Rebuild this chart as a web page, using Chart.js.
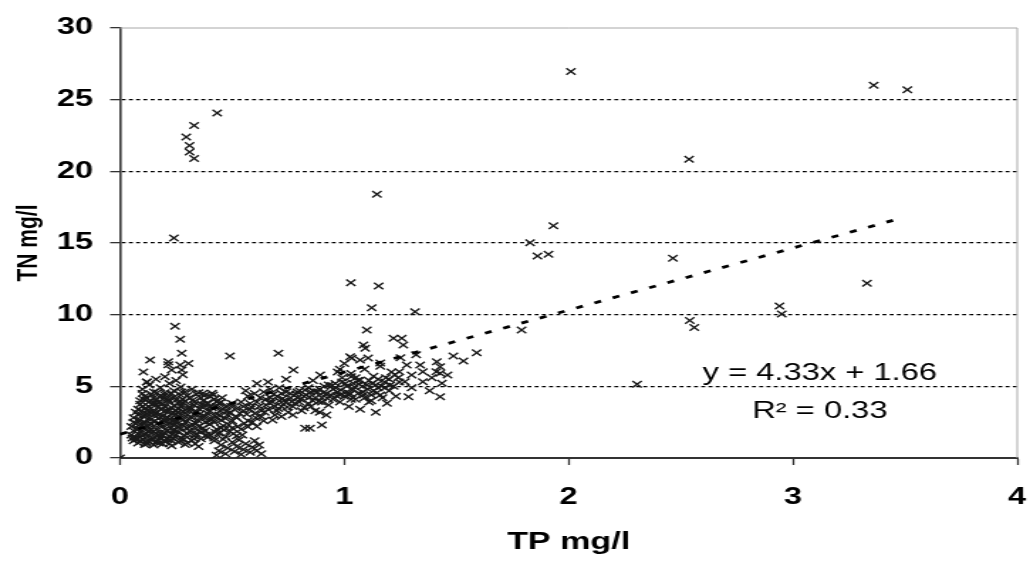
<!DOCTYPE html>
<html>
<head>
<meta charset="utf-8">
<script src="https://cdn.jsdelivr.net/npm/chart.js@4.4.1/dist/chart.umd.min.js"></script>
<style>
  html, body { margin: 0; padding: 0; background: #fff; overflow: hidden; }
  /* the source picture is a horizontally stretched Excel chart, so draw narrow and stretch */
  #wrap { width: 725px; height: 561px; transform: scaleX(1.4207); transform-origin: 0 0; }
</style>
</head>
<body>
<div id="wrap"><canvas id="chart"></canvas></div>
<script>
// TP (x) / TN (y) pairs
const denseCore = [
  [0.06,1.2],[0.08,1.05],[0.1,1.3],[0.11,0.95],[0.13,1.15],[0.15,0.9],[0.17,1.25],[0.19,1.0],[0.21,1.3],[0.23,0.85],[0.26,1.1],[0.29,0.95],[0.32,1.2],[0.35,0.8],
  [0.05,1.6],[0.07,1.45],[0.09,1.8],[0.1,1.55],[0.12,1.7],[0.14,1.4],[0.15,1.85],[0.17,1.6],[0.18,1.45],[0.2,1.75],[0.22,1.5],[0.24,1.9],[0.25,1.6],[0.27,1.4],[0.3,1.7],[0.33,1.55],[0.36,1.8],[0.39,1.45],
  [0.05,2.2],[0.07,2.4],[0.08,2.05],[0.1,2.3],[0.11,2.5],[0.13,2.1],[0.14,2.35],[0.16,2.0],[0.17,2.45],[0.19,2.2],[0.2,2.0],[0.22,2.4],[0.23,2.15],[0.25,2.5],[0.27,2.05],[0.28,2.3],[0.31,2.15],[0.34,2.4],[0.37,2.1],[0.4,2.35],[0.43,2.0],[0.46,2.25],
  [0.06,2.8],[0.08,3.0],[0.09,2.65],[0.11,2.9],[0.12,3.1],[0.14,2.7],[0.15,3.0],[0.17,2.75],[0.18,3.05],[0.2,2.6],[0.21,2.85],[0.23,3.1],[0.24,2.7],[0.26,2.95],[0.28,2.65],[0.3,3.0],[0.32,2.8],[0.35,2.6],[0.38,2.9],[0.41,2.7],[0.44,3.0],[0.47,2.75],[0.5,2.6],
  [0.08,3.4],[0.1,3.6],[0.12,3.3],[0.13,3.55],[0.15,3.25],[0.16,3.7],[0.18,3.4],[0.2,3.6],[0.21,3.2],[0.23,3.5],[0.25,3.3],[0.27,3.65],[0.29,3.35],[0.31,3.55],[0.34,3.25],[0.37,3.5],[0.4,3.3],[0.43,3.6],[0.46,3.4],[0.49,3.2],[0.52,3.45],
  [0.09,4.0],[0.11,4.3],[0.13,3.9],[0.15,4.2],[0.17,3.85],[0.19,4.1],[0.2,4.4],[0.22,3.95],[0.24,4.25],[0.26,3.8],[0.28,4.1],[0.3,4.35],[0.33,3.9],[0.36,4.2],[0.39,3.85],[0.42,4.1],[0.45,3.9],
  [0.1,4.8],[0.13,5.1],[0.15,4.6],[0.18,4.9],[0.2,4.55],[0.22,5.2],[0.24,4.7],[0.27,4.95],[0.29,4.6],[0.32,4.8],[0.35,4.55],[0.37,4.51],[0.41,4.51],[0.12,5.3],
  [0.38,1.9],[0.4,1.6],[0.42,1.4],[0.44,1.75],[0.47,1.5],[0.49,1.85],[0.52,1.55],[0.5,2.1],[0.54,2.0],[0.36,1.35]
];
const coreFill = [
  [0.07,1.3],[0.09,1.15],[0.12,1.0],[0.14,1.25],[0.16,1.1],[0.18,1.35],[0.2,1.15],[0.22,1.0],[0.24,1.35],[0.27,1.2],[0.3,1.05],[0.33,1.35],
  [0.06,1.9],[0.08,1.7],[0.11,1.65],[0.13,1.9],[0.16,1.75],[0.19,1.55],[0.21,1.9],[0.23,1.65],[0.26,1.8],[0.29,1.55],[0.31,1.9],[0.34,1.7],
  [0.06,2.5],[0.09,2.35],[0.12,2.25],[0.15,2.55],[0.18,2.35],[0.21,2.55],[0.24,2.3],[0.26,2.2],[0.29,2.5],[0.32,2.35],[0.35,2.2],[0.38,2.5],[0.42,2.5],[0.45,2.1],
  [0.07,3.2],[0.1,2.95],[0.13,2.8],[0.16,3.1],[0.19,2.9],[0.22,2.7],[0.25,3.05],[0.27,2.8],[0.29,3.15],[0.33,3.05],[0.36,2.85],[0.39,3.1],[0.42,2.95],[0.45,2.65],[0.48,3.0],
  [0.09,3.75],[0.11,3.45],[0.14,3.75],[0.17,3.55],[0.19,3.8],[0.22,3.35],[0.24,3.65],[0.26,3.45],[0.28,3.85],[0.3,3.45],[0.33,3.7],[0.35,3.45],[0.38,3.7],[0.41,3.5],[0.44,3.8],[0.47,3.6],[0.5,3.8],
  [0.1,4.5],[0.12,4.15],[0.14,4.45],[0.16,4.05],[0.18,4.35],[0.21,4.15],[0.23,4.5],[0.25,4.05],[0.27,4.4],[0.29,3.95],[0.31,4.2],[0.34,4.45],[0.37,4.0],[0.4,4.3],[0.43,3.95],
  [0.055,1.4],[0.075,2.0],[0.085,2.6],[0.095,3.3],[0.105,4.1],[0.115,1.15],[0.125,1.85],[0.135,2.45],[0.145,3.15],[0.155,3.85],
  [0.165,4.55],[0.175,1.05],[0.185,1.65],[0.195,2.65],[0.205,3.35],[0.215,4.05],[0.225,1.25],[0.235,1.95],[0.245,2.55],[0.255,3.2],
  [0.265,3.9],[0.275,4.6],[0.285,1.3],[0.295,2.1],[0.305,2.75],[0.315,3.4],[0.325,4.05],[0.335,1.0],[0.345,1.95],[0.355,3.05],
  [0.365,3.75],[0.375,4.35],[0.385,1.6],[0.395,2.6],[0.405,3.6],[0.415,4.4],[0.425,1.8],[0.435,2.8],[0.445,3.3],[0.455,4.2],
  [0.465,1.95],[0.475,3.25],[0.485,2.3],[0.495,3.6],[0.505,1.7],[0.515,2.9],[0.525,2.2],[0.535,3.1],[0.545,1.6],[0.555,2.4]
];
const lowPocket = [
  [0.42,1.2],[0.44,0.5],[0.45,0.9],[0.47,0.3],[0.48,0.7],[0.5,1.1],[0.51,0.45],[0.52,0.8],[0.54,0.25],[0.55,0.6],
  [0.56,1.0],[0.58,0.4],[0.59,0.75],[0.61,0.5],[0.62,0.9],[0.63,0.3],[0.46,1.3],[0.53,1.25],[0.6,1.2],[0.43,0.2],
  [0,0]
];
const upperLeft = [
  [0.104,6.0],[0.119,5.3],[0.2,5.67],[0.215,6.5],[0.23,6.14],[0.268,6.49],[0.275,6.14],[0.305,6.6],[0.134,6.84],
  [0.215,6.72],[0.275,7.3],[0.268,8.28],[0.245,9.2],[0.49,7.12],[0.706,7.3],[0.16,5.5],[0.25,5.4],[0.28,5.8]
];
const midBand = [
  [0.52,2.8],[0.55,3.3],[0.57,2.6],[0.58,3.8],[0.6,3.1],[0.62,3.6],[0.63,2.9],[0.65,4.1],[0.66,3.4],[0.68,3.9],
  [0.69,3.0],[0.7,4.3],[0.72,3.6],[0.73,4.0],[0.75,3.2],[0.76,4.5],[0.78,3.8],[0.79,4.2],[0.8,4.7],[0.82,3.5],
  [0.83,4.4],[0.84,4.9],[0.86,4.0],[0.87,3.3],[0.88,4.6],[0.9,4.2],[0.91,5.0],[0.93,3.7],[0.94,4.4],[0.95,4.8],
  [0.57,4.3],[0.6,4.5],[0.64,4.6],[0.67,4.8],[0.71,4.9],[0.74,4.6],[0.54,3.9],[0.56,4.7],[0.59,2.5],[0.61,2.2],
  [0.64,2.6],[0.68,2.65],[0.72,2.9],[0.57,2.18],[0.7,3.3],[0.77,3.0],[0.81,3.3],[0.85,3.6],[0.89,3.2],[0.92,3.0],
  [0.825,2.07],[0.847,2.07],[0.9,2.3],[0.773,6.14],[0.892,5.79],[0.97,6.0],[0.66,5.3],[0.74,5.5],[0.61,5.2],[0.86,5.4],
  [0.55,3.6],[0.58,3.4],[0.61,3.9],[0.63,3.3],[0.65,3.7],[0.67,4.2],[0.69,3.6],[0.71,4.0],[0.72,4.5],[0.74,3.9],
  [0.76,4.2],[0.77,3.6],[0.79,4.6],[0.8,3.9],[0.82,4.3],[0.84,3.8],[0.85,4.6],[0.87,4.2],[0.89,4.8],[0.9,3.9],
  [0.92,4.5],[0.93,5.1],[0.95,4.1],[0.96,4.9],[0.98,4.4],[0.99,5.3],
  [0.565,3.05],[0.585,3.55],[0.605,2.8],[0.625,4.2],[0.645,3.2],[0.665,3.85],[0.685,4.45],[0.705,3.45],[0.725,4.15],[0.745,3.55],
  [0.765,3.95],[0.785,4.45],[0.805,4.1],[0.825,4.75],[0.845,4.25],[0.865,4.65],[0.885,3.95],[0.905,4.55],[0.925,4.15],[0.945,5.05],
  [0.965,4.35],[0.985,4.75]
];
const rightBand = [
  [0.96,5.2],[0.97,4.6],[0.98,3.9],[0.99,5.6],[1.0,4.3],[1.01,5.0],[1.02,3.6],[1.03,5.9],[1.04,4.8],[1.05,4.1],
  [1.06,5.4],[1.07,3.4],[1.08,4.6],[1.09,6.2],[1.1,5.1],[1.11,3.9],[1.12,4.4],[1.13,5.7],[1.14,3.2],[1.15,4.9],
  [1.16,6.4],[1.17,4.2],[1.18,5.3],[1.19,3.82],[1.2,4.7],[1.21,6.0],[1.22,5.0],[1.23,4.3],[1.24,5.6],[1.033,6.96],
  [1.07,6.84],[1.106,6.98],[1.03,5.67],[1.07,5.44],[1.026,7.07],[1.16,6.63],[1.1,8.93],[1.085,7.89],[1.093,7.65],[1.0,6.6],[0.98,6.2],
  [1.219,8.35],[1.256,8.35],[1.263,7.89],[1.278,6.49],[1.338,6.49],[1.412,6.72],[1.427,6.37],[1.245,6.02],[1.3,5.79],[1.35,6.02],
  [1.41,6.02],[1.27,5.32],[1.35,5.32],[1.435,5.21],[1.427,5.91],[1.286,4.28],[1.427,4.28],[1.25,7.0],[1.32,7.2],[1.39,5.6],
  [1.3,4.9],[1.38,4.7],[1.486,7.12],[1.531,6.77],[1.59,7.35],[1.46,5.79],
  [1.01,4.6],[1.03,4.1],[1.04,5.2],[1.06,4.5],[1.08,5.0],[1.09,4.2],[1.11,5.4],[1.13,4.7],[1.14,5.1],[1.16,4.4],
  [1.18,4.9],[1.2,5.5],[1.02,4.4],[1.05,5.6],[1.12,4.0],[1.15,5.5],
  [1.005,5.2],[1.025,4.5],[1.045,4.95],[1.065,5.15],[1.085,4.4],[1.105,4.8],[1.125,5.2],[1.145,4.55],[1.165,5.0],[1.185,5.6],
  [1.205,5.1],[1.225,5.8],[1.245,5.3]
];
const outliers = [
  [0.433,24.07],[0.33,23.2],[0.295,22.4],[0.31,21.8],[0.31,21.35],[0.33,20.9],[0.24,15.35],
  [1.029,12.23],[1.153,12.0],[1.145,18.4],[1.122,10.49],[1.315,10.21],[1.79,8.93],
  [1.828,15.02],[1.861,14.1],[1.91,14.21],[1.932,16.21],[2.01,26.96],[2.305,5.15],
  [2.465,13.93],[2.537,20.84],[2.54,9.6],[2.56,9.1],[2.94,10.6],[2.95,10.05],
  [3.33,12.2],[3.36,26.0],[3.51,25.7]
];

// fitted line shown on the chart
const trendSlope = 4.33;
const trendIntercept = 1.66;
const trendSpan = [0, 3.45];
const trendLabel = 'y = 4.33x + 1.66';
const r2Label = 'R\u00b2 = 0.33';
const labelAnchor = [3.12, 5.86, 3.21];   // x, y of equation, y of R²

const xTicks = [0, 1, 2, 3, 4];
const yTicks = [0, 5, 10, 15, 20, 25, 30];

const FONT = '"Liberation Sans", Arial, sans-serif';

const samples = [].concat(denseCore, coreFill, lowPocket, upperLeft, midBand, rightBand, outliers);
const tp = samples.map(p => p[0]);
const tn = samples.map(p => p[1]);

const plotFrame = {
    id: 'plotFrame',
    beforeDatasetsDraw(chart) {
        const { ctx, chartArea: a } = chart;
        ctx.save();
        ctx.strokeStyle = '#a8a8a8';
        ctx.lineWidth = 1;
        ctx.beginPath();
        ctx.moveTo(a.left, a.top);
        ctx.lineTo(a.right, a.top);
        ctx.lineTo(a.right, a.bottom);
        ctx.stroke();
        ctx.restore();
    }
};

const trendText = {
    id: 'trendText',
    afterDatasetsDraw(chart) {
        const { ctx, scales: { x, y } } = chart;
        const cx = x.getPixelForValue(labelAnchor[0]);
        ctx.save();
        ctx.fillStyle = '#000';
        ctx.font = '23px ' + FONT;
        ctx.textAlign = 'center';
        ctx.textBaseline = 'middle';
        ctx.fillText(trendLabel, cx, y.getPixelForValue(labelAnchor[1]));
        ctx.fillText(r2Label, cx, y.getPixelForValue(labelAnchor[2]));
        ctx.restore();
    }
};

new Chart(document.getElementById('chart'), {
    type: 'scatter',
    data: {
        datasets: [
            {
                label: 'trend',
                type: 'line',
                data: trendSpan.map(v => ({ x: v, y: trendSlope * v + trendIntercept })),
                borderColor: '#000',
                borderWidth: 2.8,
                borderDash: [5, 8.8],
                pointRadius: 0,
                fill: false,
                order: 0
            },
            {
                label: 'TN vs TP',
                data: tp.map((v, i) => ({ x: v, y: tn[i] })),
                pointStyle: 'crossRot',
                pointRadius: 4.6,
                pointBorderWidth: 1.4,
                borderColor: '#1a1a1a',
                backgroundColor: '#1a1a1a',
                order: 1
            }
        ]
    },
    options: {
        responsive: true,
        maintainAspectRatio: false,
        animation: false,
        layout: { padding: { left: 0, right: 9, top: 28, bottom: 0 } },
        plugins: { legend: { display: false }, tooltip: { enabled: false } },
        scales: {
            x: {
                type: 'linear', min: 0, max: 4,
                afterBuildTicks: s => { s.ticks = xTicks.map(v => ({ value: v })); },
                afterFit: s => { s.height = 103; s.paddingLeft = 6; s.paddingRight = 6; },
                ticks: { padding: 19, color: '#000', font: { family: FONT, size: 23, weight: 'bold' } },
                grid: { drawOnChartArea: false, drawTicks: true, tickLength: 7, tickColor: '#333', tickWidth: 1.3 },
                border: { color: '#333', width: 2 },
                title: { display: true, text: 'TP mg/l', color: '#000', padding: { top: 0, bottom: 4 },
                         font: { family: FONT, size: 24, weight: 'bold' } }
            },
            y: {
                type: 'linear', min: 0, max: 30,
                afterBuildTicks: s => { s.ticks = yTicks.map(v => ({ value: v })); },
                afterFit: s => { s.width = 84.5; },
                ticks: { padding: 12, color: '#000', font: { family: FONT, size: 23, weight: 'bold' } },
                grid: {
                    color: c => (c.tick && (c.tick.value === 0 || c.tick.value === 30)) ? 'rgba(0,0,0,0)' : '#000',
                    lineWidth: 1.3, tickLength: 7, tickColor: '#333', tickWidth: 1.3
                },
                border: { color: '#333', width: 1.6, dash: [2.8, 2.3] },
                title: { display: true, text: 'TN mg/l', color: '#000', padding: { top: 8, bottom: 0 },
                         font: { family: FONT, size: 21, weight: 'bold' } }
            }
        }
    },
    plugins: [plotFrame, trendText]
});
</script>
</body>
</html>
